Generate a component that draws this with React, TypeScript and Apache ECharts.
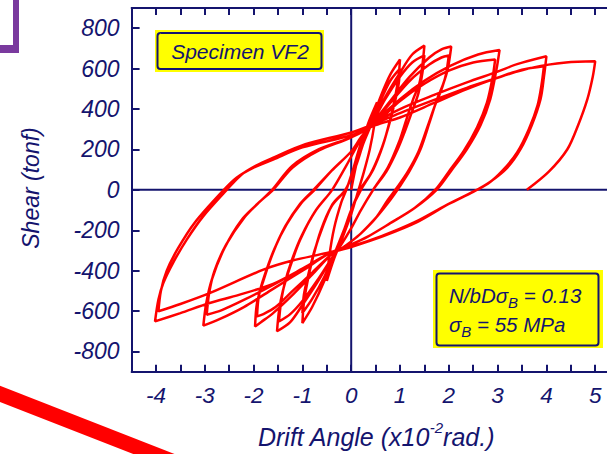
import React, { useEffect, useRef } from "react";
import * as echarts from "echarts";

const xLabelValues = [-4, -3, -2, -1, 0, 1, 2, 3, 4, 5];
const yTickValues = [-800, -600, -400, -200, 0, 200, 400, 600, 800];

const cycle05 = [
  [0, 0], [0.1, 120], [0.2, 220], [0.35, 330], [0.53, 433],
  [0.48, 330], [0.38, 200], [0.25, 80], [0.15, 0], [0, -120], [-0.2, -250], [-0.35, -340], [-0.5, -450],
  [-0.45, -330], [-0.35, -190], [-0.2, -60], [-0.1, 0], [0.05, 110], [0.2, 230], [0.4, 330],
];
const cycle10a = [
  [0.6, 460], [0.8, 570], [1.0, 645],
  [0.97, 560], [0.9, 460], [0.8, 350], [0.65, 220], [0.45, 100], [0.2, 0], [0, -100], [-0.15, -200], [-0.35, -320],
  [-0.55, -450], [-0.8, -580], [-1.0, -659],
  [-0.97, -560], [-0.9, -460], [-0.8, -350], [-0.62, -200], [-0.4, -80], [-0.12, 0], [0.1, 120], [0.25, 230], [0.4, 317],
];
const cycle10b = [
  [0.6, 440], [0.8, 540], [1.0, 600],
  [0.97, 520], [0.88, 420], [0.75, 300], [0.6, 190], [0.4, 80], [0.18, 0], [0, -100], [-0.15, -200], [-0.35, -320],
  [-0.55, -430], [-0.8, -540], [-1.0, -610],
  [-0.97, -520], [-0.88, -420], [-0.75, -300], [-0.58, -180], [-0.38, -70], [-0.12, 0], [0.1, 120], [0.25, 230], [0.4, 317],
];
const cycle15a = [
  [0.7, 460], [1.0, 580], [1.25, 670], [1.5, 714],
  [1.46, 620], [1.4, 530], [1.27, 449], [1.12, 340], [1.0, 250], [0.75, 110], [0.45, 0], [0.2, -100], [0, -190], [-0.2, -270], [-0.35, -320],
  [-0.7, -460], [-1.0, -570], [-1.25, -655], [-1.52, -700],
  [-1.48, -600], [-1.4, -500], [-1.25, -380], [-1.05, -250], [-0.75, -110], [-0.39, 0], [-0.1, 120], [0.15, 230], [0.4, 317],
];
const cycle15b = [
  [0.7, 450], [1.0, 560], [1.25, 630], [1.5, 665],
  [1.46, 580], [1.38, 480], [1.25, 390], [1.1, 290], [0.95, 200], [0.72, 90], [0.45, 0], [0.2, -100], [0, -190], [-0.2, -270], [-0.35, -320],
  [-0.7, -450], [-1.0, -550], [-1.25, -615], [-1.48, -651],
  [-1.44, -560], [-1.36, -460], [-1.22, -350], [-1.02, -230], [-0.72, -100], [-0.39, 0], [-0.1, 120], [0.15, 230], [0.4, 317],
];
const cycle20a = [
  [0.8, 440], [1.2, 560], [1.6, 655], [1.85, 695], [2.05, 709],
  [1.98, 600], [1.88, 520], [1.76, 449], [1.6, 330], [1.42, 201], [1.2, 95], [1.0, 19], [0.8, -50], [0.5, -140], [0.2, -215], [0, -255], [-0.2, -290], [-0.4, -318],
  [-0.8, -420], [-1.2, -520], [-1.6, -610], [-1.85, -655], [-1.97, -676],
  [-1.93, -560], [-1.8, -450], [-1.6, -310], [-1.35, -180], [-1.05, -70], [-0.77, 0], [-0.4, 95], [0, 190], [0.2, 260], [0.4, 317],
];
const cycle20b = [
  [0.8, 430], [1.2, 540], [1.6, 620], [1.85, 655], [2.0, 665],
  [1.94, 570], [1.84, 490], [1.72, 420], [1.56, 310], [1.38, 190], [1.16, 90], [0.95, 15], [0.75, -50], [0.5, -140], [0.2, -215], [0, -255], [-0.2, -290], [-0.4, -318],
  [-0.8, -410], [-1.2, -500], [-1.55, -580], [-1.8, -615], [-1.93, -626],
  [-1.89, -520], [-1.77, -420], [-1.57, -290], [-1.32, -170], [-1.02, -65], [-0.75, 0], [-0.4, 95], [0, 190], [0.2, 260], [0.4, 317],
];
const cycle30a = [
  [1.0, 449], [1.5, 540], [2.03, 614], [2.6, 670], [3.04, 692],
  [2.98, 600], [2.85, 449], [2.65, 320], [2.37, 201], [2.05, 95], [1.75, 0], [1.3, -90], [0.8, -165], [0.35, -230], [0, -270], [-0.45, -315],
  [-1.0, -400], [-1.6, -490], [-2.2, -580], [-2.7, -640], [-3.03, -672],
  [-2.97, -560], [-2.85, -440], [-2.6, -290], [-2.25, -150], [-1.9, -65], [-1.62, 0], [-1.21, 118], [-0.66, 201], [0, 260], [0.45, 320],
];
const cycle30b = [
  [1.0, 440], [1.5, 525], [2.0, 590], [2.5, 630], [2.95, 645],
  [2.9, 560], [2.78, 430], [2.58, 310], [2.3, 190], [2.0, 90], [1.72, 0], [1.3, -90], [0.8, -165], [0.35, -230], [0, -270], [-0.45, -315],
  [-1.0, -390], [-1.6, -470], [-2.2, -545], [-2.65, -595], [-2.96, -618],
  [-2.91, -510], [-2.8, -400], [-2.56, -270], [-2.2, -140], [-1.88, -60], [-1.6, 0], [-1.2, 110], [-0.66, 195], [0, 260],
];
const cycle40a = [
  [0.5, 335], [1.0, 400], [1.7, 470], [2.37, 532], [3.0, 585], [3.4, 622], [4.0, 661],
  [3.95, 560], [3.88, 449], [3.7, 320], [3.47, 201], [3.2, 110], [2.85, 40], [2.5, -10], [2.0, -70], [1.35, -160], [0.66, -229], [0, -283], [-0.45, -315],
  [-1.0, -390], [-1.6, -465], [-2.3, -520], [-2.9, -560], [-3.5, -610], [-4.02, -651],
  [-3.95, -543], [-3.85, -461], [-3.65, -361], [-3.37, -246], [-3.03, -130], [-2.55, 0], [-2.25, 75], [-1.95, 120], [-1.64, 155], [-0.94, 226], [0, 284],
];
const cycle40b = [
  [0.5, 330], [1.0, 380], [1.7, 445], [2.37, 505], [3.0, 555], [3.5, 595], [3.95, 612],
  [3.9, 520], [3.82, 420], [3.64, 300], [3.4, 185], [3.1, 95], [2.8, 30], [2.45, -15], [1.95, -75], [1.3, -160], [0.62, -229], [0, -280], [-0.5, -312],
  [-1.2, -350], [-1.8, -395], [-2.89, -510], [-3.5, -565], [-3.95, -601],
  [-3.9, -500], [-3.78, -400], [-3.55, -290], [-3.2, -160], [-2.65, -10], [-2.35, 60], [-2.0, 110], [-1.6, 150], [-1.0, 210], [0, 270],
];
const finalPush = [
  [0.5, 320], [1.0, 358], [1.7, 430], [2.37, 499], [3.0, 555], [3.74, 606], [4.4, 630], [5.0, 636],
  [4.95, 560], [4.84, 449], [4.65, 320], [4.43, 201], [4.05, 90], [3.6, 0],
];

const hysteresis = [
  ...cycle05, ...cycle10a, ...cycle10b, ...cycle15a, ...cycle15b,
  ...cycle20a, ...cycle20b, ...cycle30a, ...cycle30b, ...cycle40a, ...cycle40b, ...finalPush,
];

const NAVY = "#14146e";
const FONT = "'Liberation Sans', Arial, sans-serif";

export default function App() {
  const ref = useRef<HTMLDivElement>(null);
  useEffect(() => {
    const chart = echarts.init(ref.current!, null, { renderer: "svg" });
    const labelBase = {
      color: NAVY,
      fontStyle: "italic",
      fontFamily: FONT,
    };
    const option: any = {
      animation: false,
      backgroundColor: "#ffffff",
      grid: { left: 131.6, right: 20.4, top: 8, bottom: 82.3, containLabel: false },
      xAxis: [
        {
          type: "value",
          position: "bottom",
          min: -4.5,
          max: 5.5,
          interval: 0.5,
          axisLine: { show: true, onZero: false, lineStyle: { color: NAVY, width: 2 } },
          axisTick: { show: true, inside: true, length: 7, lineStyle: { color: NAVY, width: 2 } },
          axisLabel: {
            ...labelBase,
            fontSize: 22.5,
            margin: 12,
            formatter: (v: number) => (xLabelValues.includes(v) ? String(v) : ""),
          },
          splitLine: { show: false },
        },
        {
          type: "value",
          position: "top",
          min: -4.5,
          max: 5.5,
          interval: 0.5,
          axisLine: { show: true, onZero: false, lineStyle: { color: NAVY, width: 2 } },
          axisTick: { show: true, inside: true, length: 7, lineStyle: { color: NAVY, width: 2 } },
          axisLabel: { show: false },
          splitLine: { show: false },
        },
      ],
      yAxis: {
        type: "value",
        min: -900,
        max: 900,
        interval: 100,
        axisLine: { show: true, onZero: false, lineStyle: { color: NAVY, width: 2 } },
        axisTick: { show: true, inside: true, length: 8, customValues: yTickValues, lineStyle: { color: NAVY, width: 2 } },
        axisLabel: { ...labelBase, fontSize: 23, margin: 12, customValues: yTickValues },
        splitLine: { show: false },
      },
      series: [
        {
          type: "line",
          data: [[0, -900], [0, 900]],
          showSymbol: false,
          silent: true,
          lineStyle: { color: NAVY, width: 2 },
          z: 1,
        },
        {
          type: "line",
          data: [[-4.5, 0], [5.5, 0]],
          showSymbol: false,
          silent: true,
          lineStyle: { color: NAVY, width: 2 },
          z: 1,
        },
        {
          type: "line",
          data: hysteresis,
          showSymbol: false,
          smooth: 0.3,
          lineStyle: { color: "#ff0000", width: 2.5 },
          z: 3,
        },
      ],
      graphic: [
        { type: "rect", shape: { x: 13, y: 0, width: 6, height: 53 }, style: { fill: "#7a3a9e" }, z: 10 },
        { type: "rect", shape: { x: 0, y: 45, width: 19, height: 8 }, style: { fill: "#7a3a9e" }, z: 10 },
        { type: "line", shape: { x1: -10, y1: 390, x2: 200, y2: 472 }, style: { stroke: "#ff0000", lineWidth: 15 }, z: 10 },
        { type: "rect", shape: { x: 155, y: 30, width: 169, height: 42 }, style: { fill: "#ffff00" }, z: 10 },
        { type: "rect", shape: { x: 157.5, y: 33, width: 164, height: 36, r: 3 }, style: { fill: "#ffff00", stroke: NAVY, lineWidth: 2 }, z: 11 },
        {
          type: "text", x: 240, y: 51, z: 12,
          style: { text: "Specimen VF2", fill: NAVY, fontSize: 21, fontStyle: "italic", fontFamily: FONT, align: "center", verticalAlign: "middle" },
        },
        { type: "rect", shape: { x: 433, y: 270, width: 170, height: 78 }, style: { fill: "#ffff00" }, z: 10 },
        { type: "rect", shape: { x: 436.5, y: 273.5, width: 162, height: 72, r: 3 }, style: { fill: "#ffff00", stroke: NAVY, lineWidth: 2 }, z: 11 },
        {
          type: "text", x: 449, y: 310, z: 12,
          style: {
            text: "{t|N/bDσ}{sub|B}{t| = 0.13}\n{t|σ}{sub|B}{t| = 55 MPa}",
            fill: NAVY, fontFamily: FONT, fontStyle: "italic", align: "left", verticalAlign: "middle",
            rich: {
              t: { fontSize: 20.5, lineHeight: 29, fill: NAVY, fontStyle: "italic", fontFamily: FONT, verticalAlign: "middle" },
              sub: { fontSize: 15, lineHeight: 15, fill: NAVY, fontStyle: "italic", fontFamily: FONT, verticalAlign: "bottom" },
            },
          },
        },
        {
          type: "text", x: 31, y: 188, rotation: Math.PI / 2, z: 12,
          style: { text: "Shear (tonf)", fill: NAVY, fontSize: 23, fontStyle: "italic", fontFamily: FONT, align: "center", verticalAlign: "middle" },
        },
        {
          type: "text", x: 376, y: 437, z: 12,
          style: {
            text: "{m|Drift Angle (x10}{sup|-2}{m|rad.)}",
            fill: NAVY, fontFamily: FONT, fontStyle: "italic", align: "center", verticalAlign: "middle",
            rich: {
              m: { fontSize: 25, lineHeight: 34, fill: NAVY, fontStyle: "italic", fontFamily: FONT, verticalAlign: "middle" },
              sup: { fontSize: 15, lineHeight: 14, fill: NAVY, fontStyle: "italic", fontFamily: FONT, verticalAlign: "top" },
            },
          },
        },
      ],
    };
    chart.setOption(option);
    return () => chart.dispose();
  }, []);
  return (
    <div style={{ position: "fixed", left: 0, top: 0, width: 607, height: 454, overflow: "hidden", background: "#fff" }}>
      <div ref={ref} style={{ width: 640, height: 454 }} />
    </div>
  );
}
